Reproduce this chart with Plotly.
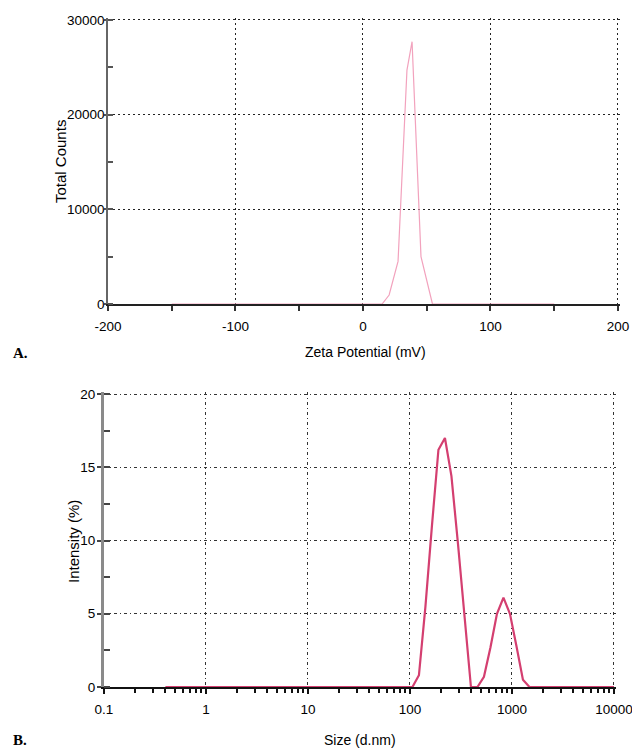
import plotly.graph_objects as go

# ---- Data: panel A (zeta potential distribution) ----
zeta_mv = [-150, 15, 20.5, 27.5, 34.5, 38.5, 45.5, 54.5, 150]
zeta_counts = [0, 0, 950, 4500, 24700, 27700, 5000, 0, 0]

# ---- Data: panel B (size distribution by intensity) ----
size_nm = [0.4, 105.7, 122.4, 141.8, 164.2, 190.1, 220.2, 255.0, 295.3, 342.0,
           396.1, 458.7, 531.2, 615.1, 712.4, 825.0, 955.4, 1106, 1281, 1484, 10000]
intensity_pct = [0, 0, 0.8, 5.5, 11.0, 16.2, 17.0, 14.4, 9.8, 5.0,
                 0, 0, 0.7, 2.7, 5.0, 6.1, 5.0, 2.8, 0.5, 0, 0]

# tick labels
zeta_ticks = [-200, -100, 0, 100, 200]
zeta_ticktext = ["-200", "-100", "0", "100", "200"]
counts_ticks = [0, 10000, 20000, 30000]
counts_ticktext = ["0", "10000", "20000", "30000"]
size_ticks = [0.1, 1, 10, 100, 1000, 10000]
size_ticktext = ["0.1", "1", "10", "100", "1000", "10000"]
intensity_ticks = [0, 5, 10, 15, 20]
size_minor = [m * d for d in [0.1, 1, 10, 100, 1000] for m in range(2, 10)]

W, H = 632, 752


def fx(px):
    return px / W


def fy(py):
    return 1 - py / H


FONT = "Liberation Sans, Arial, sans-serif"
tickfont = dict(family=FONT, size=13.5, color="black")

fig = go.Figure()
fig.add_trace(go.Scatter(x=zeta_mv, y=zeta_counts, mode="lines",
                         line=dict(color="#f2a2bd", width=1.2),
                         xaxis="x", yaxis="y", hoverinfo="skip"))
fig.add_trace(go.Scatter(x=size_nm, y=intensity_pct, mode="lines",
                         line=dict(color="#d43f70", width=2.2),
                         xaxis="x2", yaxis="y2", hoverinfo="skip"))

# small extra range so the last grid line (top / right) is drawn
dom_ax = [fx(108), fx(620)]
dom_ay = [fy(304), fy(18)]
dom_bx = [fx(104), fx(616)]
dom_by = [fy(687), fy(392)]
rng_ax = [-200, 201.6]
rng_ay = [0, 30200]
rng_bx = [-1, 4.02]
rng_by = [0, 20.14]

grid_a = dict(showgrid=True, gridcolor="#222222", gridwidth=1, griddash="2px,3px")
grid_b = dict(showgrid=True, gridcolor="#333333", gridwidth=1.3, griddash="3px,3px,1px,3px")

fig.update_layout(
    width=W, height=H, autosize=False,
    margin=dict(l=0, r=0, t=0, b=0),
    paper_bgcolor="white", plot_bgcolor="white", showlegend=False,
    xaxis=dict(domain=dom_ax, anchor="y", range=rng_ax, tickvals=zeta_ticks, ticktext=zeta_ticktext,
               ticks="outside", ticklen=5, tickcolor="#333", tickwidth=1.5,
               minor=dict(dtick=50, ticks="outside", ticklen=5, tickcolor="#333", tickwidth=1.5, showgrid=False),
               showline=True, linecolor="#222", linewidth=2, zeroline=False,
               tickfont=tickfont, ticklabelstandoff=4, ticklabeloverflow="allow",
               automargin=False, **grid_a),
    xaxis3=dict(overlaying="x", anchor="y", range=rng_ax, tickvals=zeta_ticks,
                ticks="inside", ticklen=4, tickcolor="#333", tickwidth=1.5,
                minor=dict(dtick=50, ticks="inside", ticklen=4, tickcolor="#333", tickwidth=1.5, showgrid=False),
                showticklabels=False, showgrid=False, zeroline=False, showline=False),
    yaxis=dict(domain=dom_ay, anchor="x", range=rng_ay, tickvals=counts_ticks, ticktext=counts_ticktext,
               ticks="outside", ticklen=2, tickcolor="#555", tickwidth=1.5,
               minor=dict(dtick=5000, ticks="inside", ticklen=5, tickcolor="#555", tickwidth=1.5, showgrid=False),
               showline=True, linecolor="#666", linewidth=1.5, zeroline=False,
               tickfont=tickfont, ticklabelstandoff=-3, ticklabeloverflow="allow",
               automargin=False, **grid_a),
    xaxis2=dict(domain=dom_bx, anchor="y2", type="log", range=rng_bx,
                tickvals=size_ticks, ticktext=size_ticktext,
                ticks="outside", ticklen=5, tickcolor="#111", tickwidth=1.5,
                minor=dict(tickvals=size_minor, ticks="outside", ticklen=4, tickcolor="#111", tickwidth=1.5, showgrid=False),
                showline=True, linecolor="#111", linewidth=2, zeroline=False,
                layer="below traces",
                tickfont=tickfont, ticklabelstandoff=4, ticklabeloverflow="allow",
                automargin=False, **grid_b),
    xaxis4=dict(overlaying="x2", anchor="y2", type="log", range=rng_bx,
                tickvals=size_ticks, ticks="inside", ticklen=5, tickcolor="#111", tickwidth=1.5,
                minor=dict(tickvals=size_minor, ticks="inside", ticklen=4, tickcolor="#111", tickwidth=1.5, showgrid=False),
                showticklabels=False, showgrid=False, zeroline=False, showline=False),
    yaxis2=dict(domain=dom_by, anchor="x2", range=rng_by, tickvals=intensity_ticks,
                ticks="outside", ticklen=4, tickcolor="#444", tickwidth=1.5,
                minor=dict(dtick=2.5, ticks="inside", ticklen=6, tickcolor="#444", tickwidth=1.5, showgrid=False),
                showline=True, linecolor="#8a8a8a", linewidth=3, zeroline=False,
                tickfont=tickfont, ticklabelstandoff=-1, ticklabeloverflow="allow",
                automargin=False, **grid_b),
)

# axis titles
titles = [
    ("Zeta Potential (mV)", 365, 352, 0, 14),
    ("Size (d.nm)", 360, 740, 0, 14),
    ("Total Counts", 60, 162, -90, 15),
    ("Intensity (%)", 73, 542, -90, 15),
]
for text, px, py, ang, sz in titles:
    fig.add_annotation(text=text, x=fx(px), y=fy(py), xref="paper", yref="paper",
                       xanchor="center", yanchor="middle", textangle=ang, showarrow=False,
                       font=dict(family=FONT, size=sz, color="black"))

# panel labels
for label, py in [("<b>A.</b>", 353), ("<b>B.</b>", 740)]:
    fig.add_annotation(text=label, x=fx(11), y=fy(py), xref="paper", yref="paper",
                       xanchor="left", yanchor="middle", showarrow=False,
                       font=dict(family="Liberation Serif, Times New Roman, serif", size=15, color="black"))

# remove the default page margin so the figure fills the window exactly; hide the mode bar
fig.write_html("out.html", config={"displayModeBar": False},
               post_script="document.body.style.margin='0';")
